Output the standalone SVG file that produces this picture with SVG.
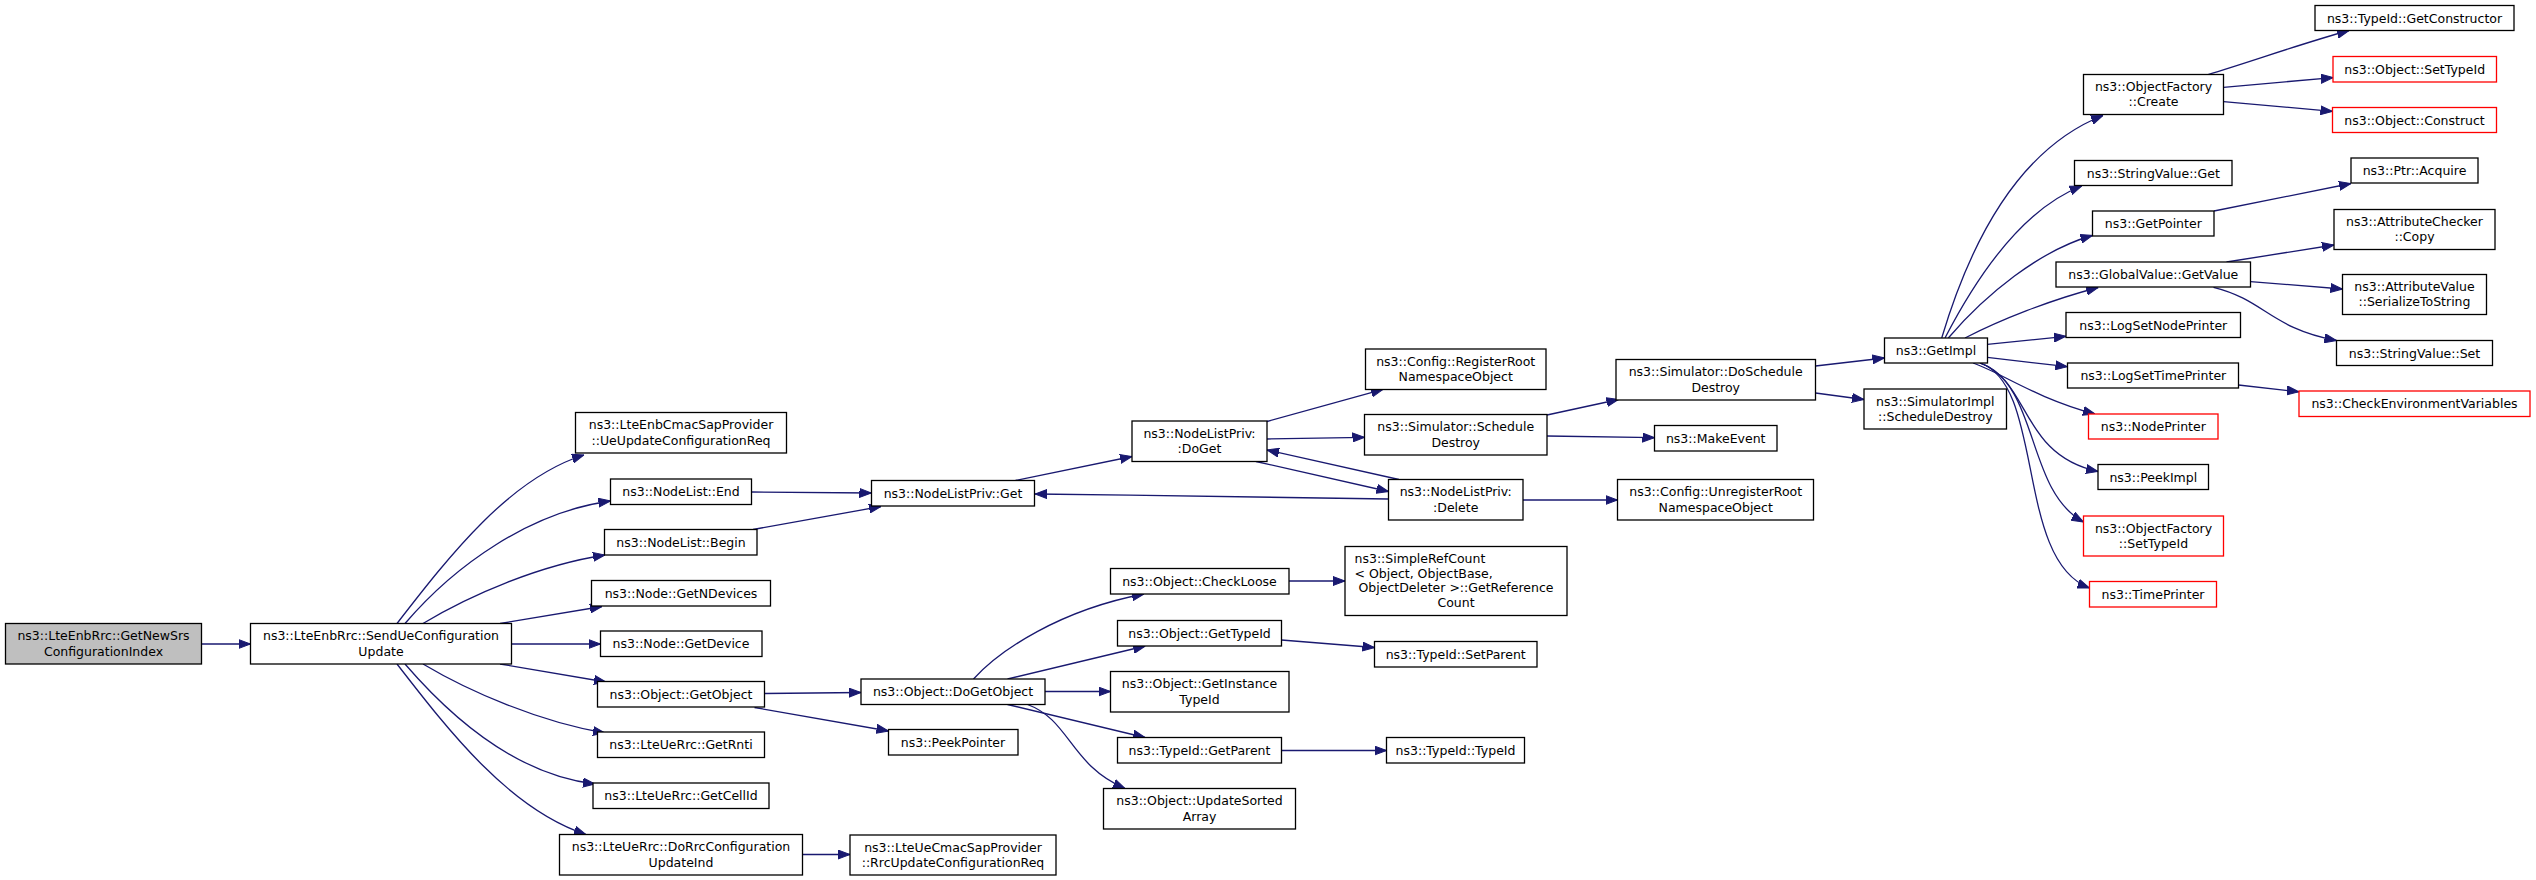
<svg xmlns="http://www.w3.org/2000/svg" width="2536" height="880" viewBox="0 0 2536 880">
<style>
.n rect{fill:#fff;stroke:#000;stroke-width:1.3}
.r rect{stroke:#ff0000}
.root rect{fill:#bfbfbf}
text{font-family:"DejaVu Sans","Liberation Sans",sans-serif;font-size:12.5px;fill:#000;text-anchor:middle}
.l{text-anchor:start}
#edges path{fill:none;stroke:#191970;stroke-width:1.3;marker-end:url(#a)}
</style>
<defs>
<marker id="a" markerWidth="12" markerHeight="10" refX="12" refY="5" orient="auto" markerUnits="userSpaceOnUse">
<path d="M0,0.5 L12,5 L0,9.5 z" fill="#191970" stroke="#191970" stroke-width="1"/>
</marker>
</defs>
<rect width="2536" height="880" fill="#fff"/>
<g id="edges">
<path d="M202,644 L250.5,644"/>
<path d="M397,623.5 C450,555 510,478 584,455"/>
<path d="M405,623.5 C455,565 530,512 610.5,501"/>
<path d="M423,623.5 C470,595 540,565 605,555"/>
<path d="M500,623.5 L602,606.5"/>
<path d="M511.5,644 L600.5,644"/>
<path d="M500,664 L606,682"/>
<path d="M423,664 C470,692 540,722 605,733"/>
<path d="M405,664 C455,722 520,775 595,784"/>
<path d="M397,664 C450,732.5 510,809.5 586,834.5"/>
<path d="M751.5,492 L871.5,493"/>
<path d="M753,529.5 L881,506.5"/>
<path d="M802.5,854.5 L850,854.5"/>
<path d="M764.5,693.5 L861,692.5"/>
<path d="M754.5,707.5 L888.5,731"/>
<path d="M1015.5,480.5 L1132,456.5"/>
<path d="M1267,421.5 L1383,389.3"/>
<path d="M1267,439 L1364.5,437.3"/>
<path d="M1256,461.5 L1388.5,491.5"/>
<path d="M1399,479.5 L1267,450"/>
<path d="M1388.5,499 C1250,497.5 1150,495 1035,494"/>
<path d="M1547,415 L1618.5,399.5"/>
<path d="M1547,436 L1654.5,437.7"/>
<path d="M1523,500 L1617.5,500"/>
<path d="M1815.5,366 L1884.5,358"/>
<path d="M1815.5,393 L1864,399.5"/>
<path d="M973.5,679 C1000,650 1060,610 1144,594"/>
<path d="M1007.5,679 L1145.3,646"/>
<path d="M1045,691.5 L1110.5,691.5"/>
<path d="M1007.5,704.5 L1145,737.5"/>
<path d="M1027.5,704.5 C1070,720 1070,765 1125,788.5"/>
<path d="M1289,581 L1345,581"/>
<path d="M1281.5,640 L1374.5,647.5"/>
<path d="M1281.5,750.5 L1386.5,750.5"/>
<path d="M1941.7,338 C1968,250 2015,150 2103,115.5"/>
<path d="M1945,338 C1975,280 2020,210 2081.7,186"/>
<path d="M1948.3,338 C1985,295 2040,250 2092.5,235.5"/>
<path d="M1965,338 C2000,320 2050,300 2098.3,287.5"/>
<path d="M1987.3,344.4 L2066,336.3"/>
<path d="M1987.3,357.4 L2067.5,366.7"/>
<path d="M1973,363 C2000,372 2035,398 2095,414"/>
<path d="M1980,363 C2030,380 2020,455 2098,471.5"/>
<path d="M1980,363 C2040,385 2025,490 2083.5,522"/>
<path d="M1980,363 C2045,385 2015,560 2089.5,588"/>
<path d="M2208,74.5 C2250,62 2300,44 2349,30.5"/>
<path d="M2223.5,87.3 L2333,77.6"/>
<path d="M2223.5,101.6 L2332.5,111.4"/>
<path d="M2214,211 L2351,183.5"/>
<path d="M2226.5,262 L2334,245"/>
<path d="M2250.5,281.6 L2342.5,289"/>
<path d="M2213.5,287.3 C2265,300 2270,328 2336.5,340.5"/>
<path d="M2238.5,385 L2299,391.8"/>
</g>
<g id="n0" class="n root"><rect x="5.5" y="623.5" width="196" height="40.5"/><text x="103.5" y="640.3">ns3::LteEnbRrc::GetNewSrs</text><text x="103.5" y="655.5">ConfigurationIndex</text></g>
<g id="n1" class="n"><rect x="250.5" y="623.5" width="261" height="40.5"/><text x="381" y="640.3">ns3::LteEnbRrc::SendUeConfiguration</text><text x="381" y="655.5">Update</text></g>
<g id="n2" class="n"><rect x="575.5" y="412.5" width="211" height="40.5"/><text x="681" y="429.3">ns3::LteEnbCmacSapProvider</text><text x="681" y="444.5">::UeUpdateConfigurationReq</text></g>
<g id="n3" class="n"><rect x="610.5" y="479" width="141" height="25.5"/><text x="681" y="496.3">ns3::NodeList::End</text></g>
<g id="n4" class="n"><rect x="604.5" y="529.5" width="152.5" height="25.5"/><text x="681" y="546.8">ns3::NodeList::Begin</text></g>
<g id="n5" class="n"><rect x="591.5" y="580.5" width="179" height="25.5"/><text x="681" y="597.8">ns3::Node::GetNDevices</text></g>
<g id="n6" class="n"><rect x="600.5" y="631" width="161.5" height="25.5"/><text x="681" y="648.3">ns3::Node::GetDevice</text></g>
<g id="n7" class="n"><rect x="597.5" y="681.5" width="167" height="25.5"/><text x="681" y="698.8">ns3::Object::GetObject</text></g>
<g id="n8" class="n"><rect x="597.5" y="732" width="167" height="25.5"/><text x="681" y="749.3">ns3::LteUeRrc::GetRnti</text></g>
<g id="n9" class="n"><rect x="593" y="783" width="176" height="25.5"/><text x="681" y="800.3">ns3::LteUeRrc::GetCellId</text></g>
<g id="n10" class="n"><rect x="559.5" y="834.5" width="243" height="40.5"/><text x="681" y="851.3">ns3::LteUeRrc::DoRrcConfiguration</text><text x="681" y="866.5">UpdateInd</text></g>
<g id="n11" class="n"><rect x="850" y="835" width="206" height="40"/><text x="953" y="851.5">ns3::LteUeCmacSapProvider</text><text x="953" y="866.7">::RrcUpdateConfigurationReq</text></g>
<g id="n12" class="n"><rect x="871.5" y="480.5" width="163" height="25.5"/><text x="953" y="497.8">ns3::NodeListPriv::Get</text></g>
<g id="n13" class="n"><rect x="861" y="679" width="184" height="25.5"/><text x="953" y="696.3">ns3::Object::DoGetObject</text></g>
<g id="n14" class="n"><rect x="888.5" y="729.5" width="129.5" height="25.5"/><text x="953" y="746.8">ns3::PeekPointer</text></g>
<g id="n15" class="n"><rect x="1132" y="421" width="135" height="40.5"/><text x="1199.5" y="437.8">ns3::NodeListPriv:</text><text x="1199.5" y="453">:DoGet</text></g>
<g id="n16" class="n"><rect x="1110.5" y="568.5" width="178.5" height="25.5"/><text x="1199.5" y="585.8">ns3::Object::CheckLoose</text></g>
<g id="n17" class="n"><rect x="1117.5" y="620.5" width="164" height="25.5"/><text x="1199.5" y="637.8">ns3::Object::GetTypeId</text></g>
<g id="n18" class="n"><rect x="1110.5" y="671.5" width="178.5" height="40.5"/><text x="1199.5" y="688.3">ns3::Object::GetInstance</text><text x="1199.5" y="703.5">TypeId</text></g>
<g id="n19" class="n"><rect x="1117.5" y="737.5" width="164" height="25.5"/><text x="1199.5" y="754.8">ns3::TypeId::GetParent</text></g>
<g id="n20" class="n"><rect x="1103.5" y="788.5" width="192" height="40.5"/><text x="1199.5" y="805.3">ns3::Object::UpdateSorted</text><text x="1199.5" y="820.5">Array</text></g>
<g id="n21" class="n"><rect x="1365.5" y="349" width="180.5" height="40.5"/><text x="1455.7" y="365.8">ns3::Config::RegisterRoot</text><text x="1455.7" y="381">NamespaceObject</text></g>
<g id="n22" class="n"><rect x="1364.5" y="414.5" width="182.5" height="40.5"/><text x="1455.7" y="431.3">ns3::Simulator::Schedule</text><text x="1455.7" y="446.5">Destroy</text></g>
<g id="n23" class="n"><rect x="1388.5" y="479.5" width="134.5" height="40.5"/><text x="1455.7" y="496.3">ns3::NodeListPriv:</text><text x="1455.7" y="511.5">:Delete</text></g>
<g id="n24" class="n"><rect x="1345" y="546.5" width="222" height="69"/><text class="l" x="1354.5" y="563">ns3::SimpleRefCount</text><text class="l" x="1354.5" y="577.5">&lt; Object, ObjectBase,</text><text x="1456" y="592">ObjectDeleter &gt;::GetReference</text><text x="1456" y="607">Count</text></g>
<g id="n25" class="n"><rect x="1374.5" y="641.5" width="162.5" height="25.5"/><text x="1455.7" y="658.8">ns3::TypeId::SetParent</text></g>
<g id="n26" class="n"><rect x="1386.5" y="737.5" width="138" height="25.5"/><text x="1455.5" y="754.8">ns3::TypeId::TypeId</text></g>
<g id="n27" class="n"><rect x="1616" y="359.5" width="199.5" height="40.5"/><text x="1715.7" y="376.3">ns3::Simulator::DoSchedule</text><text x="1715.7" y="391.5">Destroy</text></g>
<g id="n28" class="n"><rect x="1654.5" y="425.5" width="122.5" height="25.5"/><text x="1715.7" y="442.8">ns3::MakeEvent</text></g>
<g id="n29" class="n"><rect x="1617.5" y="479.5" width="196" height="40.5"/><text x="1715.7" y="496.3">ns3::Config::UnregisterRoot</text><text x="1715.7" y="511.5">NamespaceObject</text></g>
<g id="n30" class="n"><rect x="1884.5" y="338" width="103" height="25"/><text x="1936" y="355">ns3::GetImpl</text></g>
<g id="n31" class="n"><rect x="1864" y="389" width="142.5" height="40"/><text x="1935.3" y="405.5">ns3::SimulatorImpl</text><text x="1935.3" y="420.7">::ScheduleDestroy</text></g>
<g id="n32" class="n"><rect x="2083.5" y="74.5" width="140" height="40"/><text x="2153.5" y="91">ns3::ObjectFactory</text><text x="2153.5" y="106.2">::Create</text></g>
<g id="n33" class="n"><rect x="2074.5" y="160.5" width="157.5" height="25"/><text x="2153.3" y="177.5">ns3::StringValue::Get</text></g>
<g id="n34" class="n"><rect x="2092.5" y="211" width="121.5" height="25"/><text x="2153.3" y="228">ns3::GetPointer</text></g>
<g id="n35" class="n"><rect x="2056" y="262" width="194.5" height="25"/><text x="2153.3" y="279">ns3::GlobalValue::GetValue</text></g>
<g id="n36" class="n"><rect x="2066" y="312.5" width="174.5" height="25"/><text x="2153.3" y="329.5">ns3::LogSetNodePrinter</text></g>
<g id="n37" class="n"><rect x="2067.5" y="363" width="171" height="25"/><text x="2153.3" y="380">ns3::LogSetTimePrinter</text></g>
<g id="n38" class="n r"><rect x="2088.5" y="414" width="129.5" height="25"/><text x="2153.3" y="431">ns3::NodePrinter</text></g>
<g id="n39" class="n"><rect x="2098" y="464.5" width="110.5" height="25"/><text x="2153.3" y="481.5">ns3::PeekImpl</text></g>
<g id="n40" class="n r"><rect x="2083.5" y="516" width="140" height="40"/><text x="2153.5" y="532.5">ns3::ObjectFactory</text><text x="2153.5" y="547.7">::SetTypeId</text></g>
<g id="n41" class="n r"><rect x="2089.5" y="581.5" width="127" height="25.5"/><text x="2153" y="598.8">ns3::TimePrinter</text></g>
<g id="n42" class="n"><rect x="2315" y="5.5" width="199" height="25"/><text x="2414.5" y="22.5">ns3::TypeId::GetConstructor</text></g>
<g id="n43" class="n r"><rect x="2333" y="56.5" width="163.5" height="25.5"/><text x="2414.7" y="73.8">ns3::Object::SetTypeId</text></g>
<g id="n44" class="n r"><rect x="2332.5" y="107.5" width="164" height="25"/><text x="2414.5" y="124.5">ns3::Object::Construct</text></g>
<g id="n45" class="n"><rect x="2351" y="158" width="127" height="25"/><text x="2414.5" y="175">ns3::Ptr::Acquire</text></g>
<g id="n46" class="n"><rect x="2334" y="209.5" width="161" height="40"/><text x="2414.5" y="226">ns3::AttributeChecker</text><text x="2414.5" y="241.2">::Copy</text></g>
<g id="n47" class="n"><rect x="2342.5" y="274.5" width="144" height="40"/><text x="2414.5" y="291">ns3::AttributeValue</text><text x="2414.5" y="306.2">::SerializeToString</text></g>
<g id="n48" class="n"><rect x="2336.5" y="340.5" width="156" height="25"/><text x="2414.5" y="357.5">ns3::StringValue::Set</text></g>
<g id="n49" class="n r"><rect x="2299" y="391" width="231" height="25.5"/><text x="2414.5" y="408.3">ns3::CheckEnvironmentVariables</text></g>
</svg>
